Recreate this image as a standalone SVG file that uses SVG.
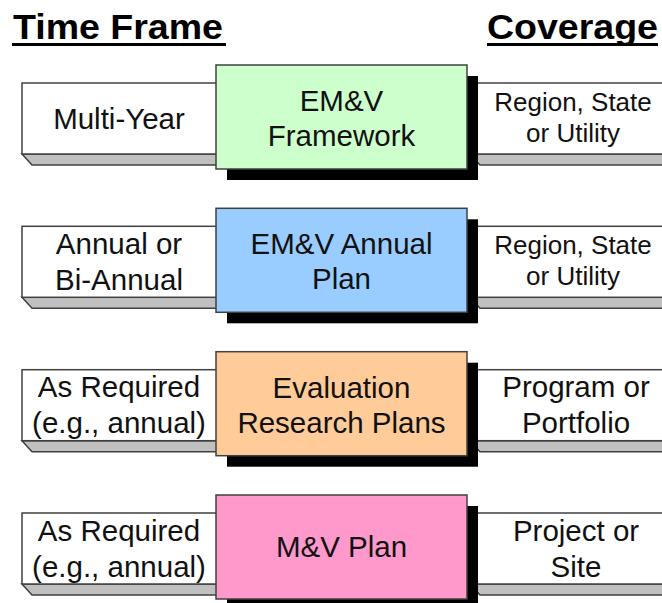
<svg xmlns="http://www.w3.org/2000/svg" width="662" height="603" viewBox="0 0 662 603">
<style>
.side{fill:#fff;stroke:#404040;stroke-width:1.5}
.bev{fill:#c0c0c0;stroke:#404040;stroke-width:1.5}
.shadow{fill:#000}
.core{stroke:#404040;stroke-width:1.5}
.t{font-family:"Liberation Sans",Arial,sans-serif;font-size:29.5px;fill:#111;text-anchor:middle}
.ts{font-family:"Liberation Sans",Arial,sans-serif;font-size:26px;fill:#111;text-anchor:middle}
.h{font-family:"Liberation Sans",Arial,sans-serif;font-size:35px;font-weight:bold;fill:#000}
</style>
<rect width="662" height="603" fill="#fff"/>
<g id="headers">
<text class="h" x="13" y="39" textLength="210" lengthAdjust="spacingAndGlyphs">Time Frame</text>
<rect x="12" y="43" width="214" height="3" fill="#000"/>
<text class="h" x="487" y="39" textLength="171" lengthAdjust="spacingAndGlyphs">Coverage</text>
<rect x="487" y="43" width="171" height="3" fill="#000"/>
</g>
<g id="connectors"></g>

<g id="row1">
<g id="tf1"><polygon class="bev" points="22,154 232,154 242,165 32,165"/><rect class="side" x="22" y="83" width="210" height="71"/>
<text class="t" x="119" y="129">Multi-Year</text></g>
<g id="cov1"><polygon class="bev" points="470,154 670,154 670,165 480,165"/><rect class="side" x="470" y="83" width="200" height="71"/>
<text class="ts" x="573" y="111">Region, State</text><text class="ts" x="573" y="142">or Utility</text></g>
<g id="plan1"><rect class="shadow" x="227" y="76" width="251" height="104"/><rect class="core" x="216" y="65" width="251" height="104" fill="#ccffcc"/>
<text class="t" x="341.5" y="111">EM&amp;V</text><text class="t" x="341.5" y="146">Framework</text></g>
</g>

<g id="row2" transform="translate(0,143.3)">
<g id="tf2"><polygon class="bev" points="22,154 232,154 242,165 32,165"/><rect class="side" x="22" y="83" width="210" height="71"/>
<text class="t" x="119" y="110.5">Annual or</text><text class="t" x="119" y="146.5">Bi-Annual</text></g>
<g id="cov2"><polygon class="bev" points="470,154 670,154 670,165 480,165"/><rect class="side" x="470" y="83" width="200" height="71"/>
<text class="ts" x="573" y="111">Region, State</text><text class="ts" x="573" y="142">or Utility</text></g>
<g id="plan2"><rect class="shadow" x="227" y="76" width="251" height="104"/><rect class="core" x="216" y="65" width="251" height="104" fill="#99ccff"/>
<text class="t" x="341.5" y="111">EM&amp;V Annual</text><text class="t" x="341.5" y="146">Plan</text></g>
</g>

<g id="row3" transform="translate(0,286.7)">
<g id="tf3"><polygon class="bev" points="22,154 232,154 242,165 32,165"/><rect class="side" x="22" y="83" width="210" height="71"/>
<text class="t" x="119" y="110.5">As Required</text><text class="t" x="119" y="146.5">(e.g., annual)</text></g>
<g id="cov3"><polygon class="bev" points="470,154 670,154 670,165 480,165"/><rect class="side" x="470" y="83" width="200" height="71"/>
<text class="t" x="576" y="110.5">Program or</text><text class="t" x="576" y="146.5">Portfolio</text></g>
<g id="plan3"><rect class="shadow" x="227" y="76" width="251" height="104"/><rect class="core" x="216" y="65" width="251" height="104" fill="#ffcc99"/>
<text class="t" x="341.5" y="111">Evaluation</text><text class="t" x="341.5" y="146">Research Plans</text></g>
</g>

<g id="row4" transform="translate(0,430)">
<g id="tf4"><polygon class="bev" points="22,154 232,154 242,165 32,165"/><rect class="side" x="22" y="83" width="210" height="71"/>
<text class="t" x="119" y="110.5">As Required</text><text class="t" x="119" y="146.5">(e.g., annual)</text></g>
<g id="cov4"><polygon class="bev" points="470,154 670,154 670,165 480,165"/><rect class="side" x="470" y="83" width="200" height="71"/>
<text class="t" x="576" y="110.5">Project or</text><text class="t" x="576" y="146.5">Site</text></g>
<g id="plan4"><rect class="shadow" x="227" y="76" width="251" height="104"/><rect class="core" x="216" y="65" width="251" height="104" fill="#ff99cc"/>
<text class="t" x="341.5" y="127">M&amp;V Plan</text></g>
</g>
</svg>
